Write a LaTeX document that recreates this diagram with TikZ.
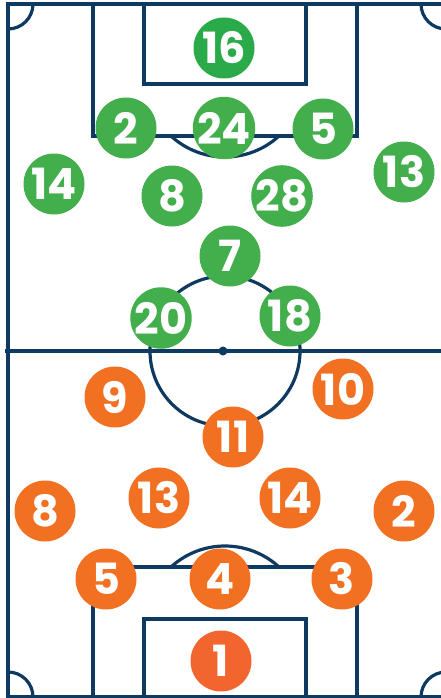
\documentclass[tikz,border=0pt]{standalone}
\usepackage{fontspec}
\newfontfamily\numfont{Poppins}
\definecolor{navy}{HTML}{0E3A62}
\definecolor{grn}{HTML}{42AE4C}
\definecolor{grndark}{HTML}{2BAA4A}
\definecolor{org}{HTML}{F27022}
\definecolor{orgred}{HTML}{F2652E}
\tikzset{
  pline/.style={draw=navy, line width=3.2pt},
  player/.style={circle, minimum size=61pt, inner sep=0pt, text=white,
    font=\numfont\bfseries\fontsize{43}{43}\selectfont},
  gp/.style={player, fill=grn},
  op/.style={player, fill=org},
}
\begin{document}
\begin{tikzpicture}[x=1pt,y=-1pt]
\useasboundingbox (0,0) rectangle (441,698);
\fill[white] (0,0) rectangle (441,698);
% pitch lines
\draw[pline] (8,698) -- (8,4) -- (446,4);
\draw[pline] (8,697) -- (446,697);
\draw[pline] (5,351) -- (446,351);
% corner arcs
\begin{scope}
  \clip (8,4) rectangle (446,697);
  \draw[pline] (8,4) circle[radius=25];
  \draw[pline] (446,4) circle[radius=25];
  \draw[pline] (8,697) circle[radius=25];
  \draw[pline] (446,697) circle[radius=25];
\end{scope}
% top boxes
\draw[pline] (93,4) -- (93,136) -- (357,136) -- (357,4);
\draw[pline] (144,4) -- (144,84) -- (306,84) -- (306,4);
\begin{scope}
  \clip (100,136) rectangle (350,200);
  \draw[pline] (225,77) circle[radius=80];
\end{scope}
% bottom boxes
\draw[pline] (93,697) -- (93,567) -- (357,567) -- (357,697);
\draw[pline] (144,697) -- (144,619) -- (306,619) -- (306,697);
\begin{scope}
  \clip (100,500) rectangle (350,567);
  \draw[pline] (225,626) circle[radius=80];
\end{scope}
% centre
\draw[pline] (225,351) circle[radius=75];
\fill[navy] (223,351) circle[radius=4.5];
% green team
\node[gp, fill=grndark] (g16) at (224,48) {16};
\node[gp] (g2) at (126,128) {2};
\node[gp] (g24) at (224,128) {24};
\node[gp] (g5) at (323,129) {5};
\node[gp] (g14) at (54,184) {14};
\node[gp] (g8) at (172,196) {8};
\node[gp] (g28) at (282,196) {28};
\node[gp] (g13) at (404,172) {13};
\node[gp] (g7) at (230,256) {7};
\node[gp] (g20) at (161,318) {20};
\node[gp] (g18) at (290,316) {18};
% orange team
\node[op] (o9) at (115,397) {9};
\node[op] (o10) at (343,389) {10};
\node[op] (o11) at (233,437) {11};
\node[op] (o13) at (159,498) {13};
\node[op] (o14) at (290,498) {14};
\node[op] (o8) at (45,511) {8};
\node[op] (o2) at (404,511) {2};
\node[op] (o5) at (106,579) {5};
\node[op] (o4) at (220,579) {4};
\node[op] (o3) at (342,579) {3};
\node[op, fill=orgred] (o1) at (221,661) {1};
\end{tikzpicture}
\end{document}
